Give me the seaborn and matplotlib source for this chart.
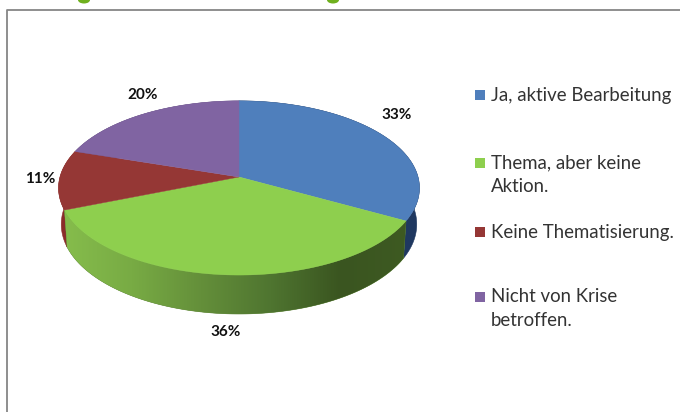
import numpy as np
import matplotlib
matplotlib.use('Agg')
import matplotlib.pyplot as plt
import seaborn as sns
from matplotlib.patches import Polygon, Ellipse

# values of the pie, clockwise from 12 o'clock
categories = ['Ja, aktive Bearbeitung', 'Thema, aber keine\nAktion.', 'Keine Thematisierung.', 'Nicht von Krise\nbetroffen.']
shares = [33, 36, 11, 20]
top_colors = ['#4f7fbc', '#8ecf4e', '#953735', '#8064a2']
wall_colors = ['#1f3860', '#5a8232', '#8a2c2a', '#5f4a7c']

sns.set_theme(style='white')
plt.rcParams['font.family'] = ['Lato', 'DejaVu Sans']

CX, CY = 239, 177
RX, RY, K = 179, 85.7, 0.126
DROP = 36


def project(theta, drop=0.0):
    # theta is clockwise from the top; fake the tilted disc with a projective map
    px = np.sin(theta)
    py = -np.cos(theta)
    d = 1 - K * py
    scale = 1 + drop / DROP * 0.03
    return CX + RX * px / d * (1 - drop / DROP * 0.015), CY + drop + scale * RY * py / d


def arc(a, b, drop=0.0):
    t = np.linspace(a, b, 200)
    x, y = project(t, drop)
    return np.column_stack([x, y])


fig, ax = plt.subplots(figsize=(6.8, 4.12), dpi=100)
fig.subplots_adjust(0, 0, 1, 1)
ax.set_axis_off()

edges = np.radians(np.concatenate([[0], np.cumsum(shares)]) * 3.6)

# walls first, back ones before the green front
for i in [3, 0, 2, 1]:
    a, b = edges[i], edges[i + 1]
    pts = np.vstack([arc(a, b), arc(a, b, DROP)[::-1]])
    poly = Polygon(pts, closed=True, fc=wall_colors[i], ec=wall_colors[i], lw=0.4, zorder=2)
    ax.add_patch(poly)
    if i == 1:
        # front wall fades from light green on the left to dark on the right
        cmap = sns.blend_palette(['#86bd4c', '#78ab44', '#648f3a', '#4f7530', '#3a5520', '#3e5a22'], as_cmap=True)
        grad = np.linspace(0, 1, 256).reshape(1, -1)
        im = ax.imshow(grad, cmap=cmap, extent=[62, 410, 320, 200], aspect='auto', zorder=3)
        im.set_clip_path(poly)

# top face
for i in range(4):
    a, b = edges[i], edges[i + 1]
    apex = np.array([[CX, CY]])
    ax.add_patch(Polygon(np.vstack([apex, arc(a, b)]), closed=True, fc=top_colors[i], ec=top_colors[i], lw=0.3, zorder=4))

# percentage labels
label_xy = [(397, 114), (226, 332), (40, 178), (143, 94)]
for s, (x, y) in zip(shares, label_xy):
    ax.text(x, y + 0.5, f'{s}%', ha='center', va='center', fontsize=11, fontweight='bold', color='#111111', zorder=5)

# legend
legend_y = [95, 163, 232, 297]
for cat, col, y in zip(categories, top_colors, legend_y):
    ax.scatter([480], [y], marker='s', s=42, color=col, linewidths=0, zorder=5)
    ax.text(491, y - 8.5, cat, ha='left', va='top', fontsize=13.4, color='#333333', linespacing=1.5, zorder=5)

# chart frame, cut off by the screenshot on the right and at the bottom
ax.plot([7, 7, 680], [412, 9.5, 9.5], color='#868686', lw=1.3, zorder=1)

# descenders of the cropped title, all that is left of it
for x in [84, 333]:
    ax.add_patch(Ellipse((x, 0), 12, 7, fc='#6fb01e', ec='none', zorder=5))

ax.set_xlim(0, 680)
ax.set_ylim(412, 0)
fig.savefig('out.png', dpi=100)
